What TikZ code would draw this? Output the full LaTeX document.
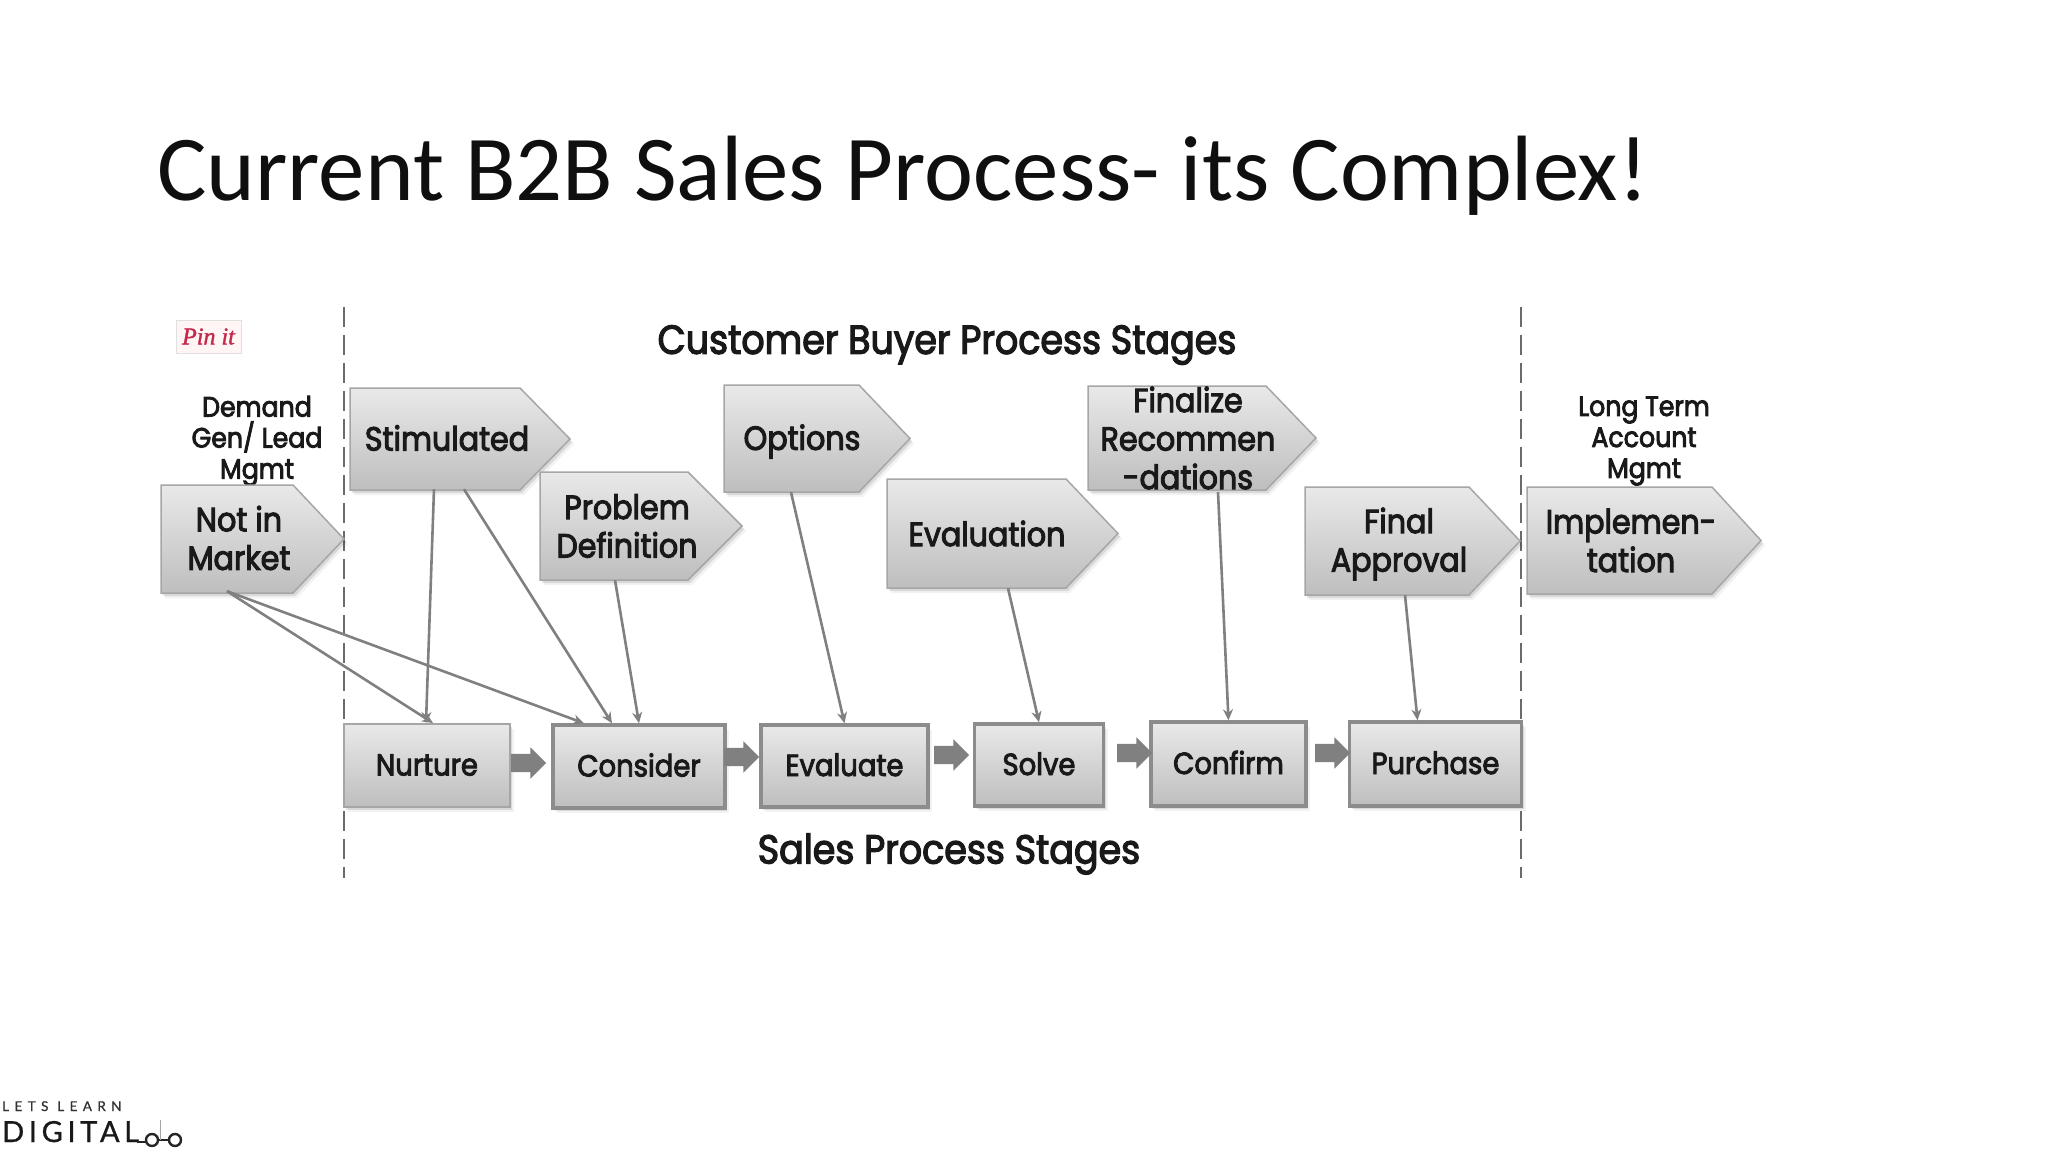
\documentclass[tikz,border=0pt]{standalone}
\usepackage{fontspec}
\setmainfont{Poppins}[FakeBold=3,FakeStretch=0.9]
\newfontfamily\titlefont{Carlito}
\newfontfamily\logofont[LetterSpace=40,FakeBold=0.8]{Lato}
\newfontfamily\logobig[LetterSpace=16,FakeBold=0.8]{Lato}
\newfontfamily\pinfont[FakeBold=1.4]{Liberation Serif}
\usetikzlibrary{shapes.arrows,arrows.meta}
\definecolor{edgegray}{HTML}{8C8C8C}
\definecolor{linegray}{HTML}{808080}
\definecolor{chevedge}{HTML}{A6A6A6}
\definecolor{gradtop}{HTML}{E9E9E9}
\definecolor{gradbot}{HTML}{BEBEBE}
\definecolor{pinred}{HTML}{C4284B}
\tikzset{
  softshadow/.style={
    preaction={fill=black,opacity=.05,transform canvas={xshift=4pt,yshift=-5pt}},
    preaction={fill=black,opacity=.10,transform canvas={xshift=2pt,yshift=-3pt}}},
  chevshape/.style={softshadow,draw=chevedge,line width=1.5pt,top color=gradtop,bottom color=gradbot},
  chevtext/.style={inner sep=0pt,align=center,text=black!90,font=\fontsize{33.5}{38.5}\selectfont},
  boxbase/.style={softshadow,rectangle,inner sep=0pt,top color=gradtop,bottom color=gradbot,
    text=black!90,font=\fontsize{30.5}{34}\selectfont},
  thinbox/.style={boxbase,draw=chevedge,line width=2pt},
  thickbox/.style={boxbase,draw=edgegray,line width=3.5pt},
  conn/.style={draw=linegray,line width=2.6pt,-{Stealth[length=11pt,width=10pt]}},
  flowarrow/.style={single arrow,fill=linegray,draw=none,inner sep=0pt,minimum height=35pt,
    single arrow head extend=6.5pt,single arrow head indent=0pt},
  dashline/.style={draw=black!58,line width=2.6pt,dash pattern=on 20pt off 8pt},
  smalltext/.style={align=center,inner sep=0pt,text=black!90,font=\fontsize{28}{31}\selectfont},
  headtext/.style={inner sep=0pt,text=black!90,font=\fontsize{40.5}{44}\selectfont},
}
% [#1 text options], #2 name, #3 left, #4 top, #5 shoulder, #6 tip, #7 bottom, #8 text centre x, #9 text
\newcommand{\chevron}[9][]{%
  \pgfmathsetmacro{\midy}{(#4+#7)/2}%
  \pgfmathsetmacro{\halfw}{#8-#3}%
  \pgfmathsetmacro{\fullh}{#7-#4}%
  \path[chevshape] (#3,#4) -- (#5,#4) -- (#6,\midy) -- (#5,#7) -- (#3,#7) -- cycle;
  \node[chevtext,minimum width=2*\halfw pt,minimum height=\fullh pt,#1] (#2) at (#8,\midy) {#9};
}
\newcommand{\boxlabel}[1]{\raisebox{-10pt}[0pt][0pt]{#1}}
\begin{document}
\begin{tikzpicture}[x=1pt,y=-1pt]
\useasboundingbox (0,0) rectangle (2048,1152);
\fill[white] (0,0) rectangle (2048,1152);

\node[anchor=base west,inner sep=0pt,text=black!94,font=\titlefont\fontsize{92.8}{100}\selectfont] (title) at (157,200) {Current B2B Sales Process- its Complex!};

% stage separators
\coordinate (sepAtop) at (344,307);
\coordinate (sepAbot) at (344,878);
\coordinate (sepBtop) at (1521,307);
\coordinate (sepBbot) at (1521,878);
\draw[dashline] (sepAtop) -- (sepAbot);
\draw[dashline] (sepBtop) -- (sepBbot);

% pin it badge
\node[draw=black!12,fill=red!4,minimum width=65pt,minimum height=33pt,inner sep=0pt,text=pinred,
  font=\pinfont\itshape\fontsize{24}{25}\selectfont] (pin) at (208.5,336.5) {Pin it};

\node[headtext] (head) at (947,345) {Customer Buyer Process Stages};
\node[headtext] (foot) at (949,854) {Sales Process Stages};
\node[smalltext] (demand) at (257,441) {Demand\\Gen/ Lead\\Mgmt};
\node[smalltext] (longterm) at (1644,441) {Long Term\\Account\\Mgmt};

% buyer stages
\chevron[yshift=1pt]{market}{161}{485}{293}{344}{593}{239}{Not in\\Market}
\chevron[yshift=1pt]{stim}{350}{388}{520}{570}{490}{447}{Stimulated}
\chevron{problem}{540}{472}{688}{742}{580}{627}{Problem\\Definition}
\chevron[yshift=-3pt]{options}{724}{385}{859}{910}{492}{802}{Options}
\chevron{evaluation}{887}{479}{1066}{1118}{588}{987}{Evaluation}
\chevron{finalize}{1088}{386}{1266}{1316}{490}{1188}{Finalize\\Recommen\\-dations}
\chevron[yshift=-3pt]{approval}{1305}{487}{1469}{1520}{595}{1399}{Final\\Approval}
\chevron{impl}{1527}{487}{1712}{1761}{594}{1631}{Implemen-\\tation}

% sales stages
\node[thinbox,minimum width=166pt,minimum height=83pt] (nurture) at (427,765.5) {\boxlabel{Nurture}};
\node[thickbox,minimum width=172pt,minimum height=83pt] (consider) at (639,766.5) {\boxlabel{Consider}};
\node[thickbox,minimum width=167pt,minimum height=82pt] (evaluate) at (844.5,766) {\boxlabel{Evaluate}};
\node[thickbox,minimum width=129pt,minimum height=82pt] (solve) at (1039,765) {\boxlabel{Solve}};
\node[thickbox,minimum width=155pt,minimum height=84pt] (confirm) at (1228.5,764) {\boxlabel{Confirm}};
\node[thickbox,minimum width=172pt,minimum height=84pt] (purchase) at (1435.5,764) {\boxlabel{Purchase}};

% flow arrows
\node[flowarrow] (fa) at (524,763) {\rule{0pt}{18pt}};
\node[flowarrow] (fb) at (737,757) {\rule{0pt}{18pt}};
\node[flowarrow] (fc) at (947,755) {\rule{0pt}{18pt}};
\node[flowarrow] (fd) at (1130,753) {\rule{0pt}{18pt}};
\node[flowarrow] (fe) at (1328,753) {\rule{0pt}{18pt}};

% connectors
\draw[conn] ([xshift=-12pt,yshift=1pt]market.south) -- ([xshift=6pt]nurture.north);
\draw[conn] ([xshift=-12pt,yshift=1pt]market.south) -- ([xshift=-55pt]consider.north);
\draw[conn] ([xshift=-13pt]stim.south) -- ([xshift=-1pt]nurture.north);
\draw[conn] ([xshift=17pt]stim.south) -- ([xshift=-27pt]consider.north);
\draw[conn] ([xshift=-12pt]problem.south) -- (consider.north);
\draw[conn] ([xshift=-11pt,yshift=3pt]options.south) -- (evaluate.north);
\draw[conn] ([xshift=21pt]evaluation.south) -- (solve.north);
\draw[conn] ([xshift=30pt,yshift=-2pt]finalize.south) -- (confirm.north);
\draw[conn] ([xshift=6pt,yshift=3pt]approval.south) -- ([xshift=-18pt]purchase.north);

% logo
\node[anchor=base west,inner sep=0pt,font=\logofont\fontsize{13.5}{15}\selectfont,text=black!80] (logoa) at (2,1111) {LETS LEARN};
\node[anchor=base west,inner sep=0pt,font=\logobig\fontsize{29}{30}\selectfont,text=black!90] (logob) at (2,1142) {DIGITAL};
\coordinate (ringa) at (152,1140);
\coordinate (ringb) at (175,1140);
\draw[line width=2.4pt,black!85] (137,1142) -- (146,1142);
\draw[line width=2.4pt,black!85] (ringa) circle[radius=6pt];
\draw[line width=2.4pt,black!85] (158,1140) -- (169,1140);
\draw[line width=2.4pt,black!85] (ringb) circle[radius=6pt];
\draw[line width=.5pt,black!35] (160,1120) -- (160,1140);
\end{tikzpicture}
\end{document}
